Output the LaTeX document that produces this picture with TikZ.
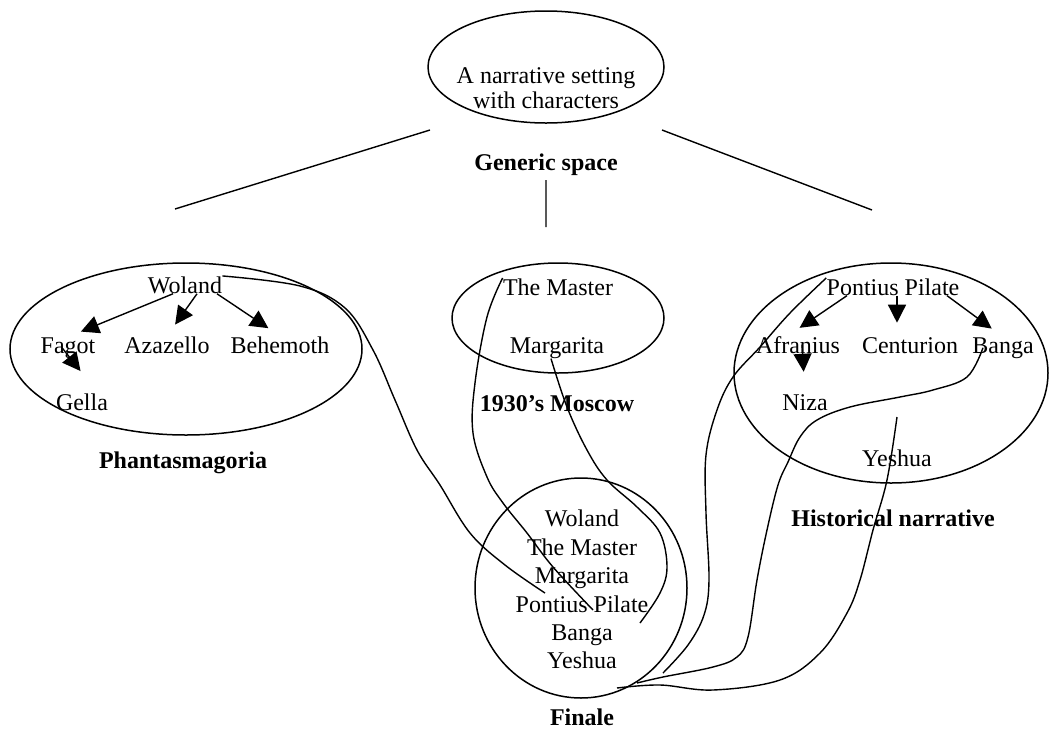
\documentclass[tikz,border=0pt]{standalone}
\usepackage{fontspec}
\setmainfont{Liberation Serif}
\usetikzlibrary{arrows.meta,calc}

\begin{document}
\begin{tikzpicture}[x=0.5pt,y=-0.5pt]
                    \tikzstyle{every node}=[inner sep=0,anchor=base,font=\fontsize{12}{14}\selectfont]
                    \tikzstyle{title}=[font=\fontsize{12}{14}\selectfont\bfseries]
                    \tikzstyle{setting}=[anchor=center,align=center,font=\fontsize{12}{12.5}\selectfont]
                    \tikzstyle{ring}=[line width=0.75pt]
                    \tikzstyle{link}=[line width=0.7pt]
                    \tikzstyle{tip}=[line width=0.7pt,-{Triangle[length=9pt,width=9pt]},shorten >=7pt]
                    \useasboundingbox (0,0) rectangle (1050,729);
                    {
                        % generic space
                        \draw[ring] (546,67) ellipse [x radius=118, y radius=56];
                        \node[setting] (setting) at (546,88) {A narrative setting\\with characters};
                        \node[title] (generic) at (546,170) {Generic space};
                        \coordinate (gl) at (430,130);
                        \coordinate (gm) at (546,180);
                        \coordinate (gr) at (662,130);
                        \coordinate (il) at (175,209);
                        \coordinate (im) at (546,227);
                        \coordinate (ir) at (872,210);
                        \draw[link] (gl) -- (il) (gm) -- (im) (gr) -- (ir);

                        % phantasmagoria
                        \draw[ring] (186,349) ellipse [x radius=176, y radius=86];
                        \node (woland) at (185,293) {Woland};
                        \node (fagot) at (68,353) {Fagot};
                        \node (azazello) at (167,353) {Azazello};
                        \node (behemoth) at (280,353) {Behemoth};
                        \node (gella) at (82,410) {Gella};
                        \node[title] (phant) at (183,468) {Phantasmagoria};

                        % 1930's moscow
                        \draw[ring] (558,318) ellipse [x radius=106, y radius=55];
                        \node (master) at (558,295) {The Master};
                        \node (margarita) at (557,353) {Margarita};
                        \node[title] (moscow) at (557,411) {1930's Moscow};

                        % historical narrative
                        \draw[ring] (891,373) ellipse [x radius=157, y radius=110];
                        \node (pp) at (893,295) {Pontius Pilate};
                        \node (afranius) at (798,353) {Afranius};
                        \node (centurion) at (910,353) {Centurion};
                        \node (banga) at (1003,353) {Banga};
                        \node (niza) at (805,410) {Niza};
                        \node (yeshua) at (897,466) {Yeshua};
                        \node[title] (hist) at (893,526) {Historical narrative};

                        % finale
                        \draw[ring] (581,588) ellipse [x radius=106, y radius=110];
                        \node (fWoland) at (582,526) {Woland};
                        \node (fMaster) at (582,555) {The Master};
                        \node (fMargarita) at (582,583) {Margarita};
                        \node (fPilate) at (582,612) {Pontius Pilate};
                        \node (fBanga) at (582,640) {Banga};
                        \node (fYeshua) at (582,668) {Yeshua};
                        \node[title] (finale) at (582,725) {Finale};

                        \path[tip]
                            ([xshift=-6pt]woland.south) edge (fagot.north)
                            ([xshift=6pt]woland.south) edge (azazello.north)
                            ([xshift=16pt]woland.south) edge (behemoth.north)
                            ([xshift=-3pt]fagot.center) edge[shorten >=14pt] ([xshift=8pt]gella.north)
                            ([xshift=-23pt]pp.south) edge ([xshift=-5pt]afranius.north)
                            ([xshift=2pt]pp.south) edge ([xshift=-6.5pt]centurion.north)
                            ([xshift=27pt]pp.south) edge (banga.north)
                            ([xshift=2pt]afranius.center) edge[shorten >=11pt] (niza.north);

                        \coordinate (wEnd) at (545,593);
                        \coordinate (mEnd) at (593,610);
                        \coordinate (gEnd) at (640,623);
                        \coordinate (aEnd) at (663,673);
                        \coordinate (bEnd) at (637,683);
                        \coordinate (cStart) at (897,417);
                        \coordinate (cEnd) at (617,688);

                        \draw[link] plot[smooth,tension=0.6] coordinates {(woland.north east) (300,286) (345,308) (373,350) (395,400) (417,450) (440,485) (470,533) (505,565) (wEnd)};
                        \draw[link] plot[smooth,tension=0.6] coordinates {(master.north west) (487,317) (475,383) (473,433) (487,477) (503,503) (527,533) (553,567) (mEnd)};
                        \draw[link] plot[smooth,tension=0.6] coordinates {([xshift=-3pt]margarita.south) (567,407) (587,450) (607,480) (637,507) (660,533) (667,567) (660,593) (gEnd)};
                        \draw[link] plot[smooth,tension=0.6] coordinates {(pp.north west) (790,313) (760,347) (733,377) (717,410) (706,455) (706,513) (709,580) (704,615) (688,645) (aEnd)};
                        \draw[link] plot[smooth,tension=0.6] coordinates {([xshift=-10pt]banga.center) (967,377) (933,390) (900,397) (850,407) (817,420) (800,437) (788,462) (778,485) (767,530) (757,580) (748,637) (737,657) (713,667) (663,677) (bEnd)};
                        \draw[link] plot[smooth,tension=0.6] coordinates {(cStart) (887,480) (873,530) (860,580) (847,613) (820,653) (780,680) (713,690) (660,685) (cEnd)};
                    }
\end{tikzpicture}
\end{document}
